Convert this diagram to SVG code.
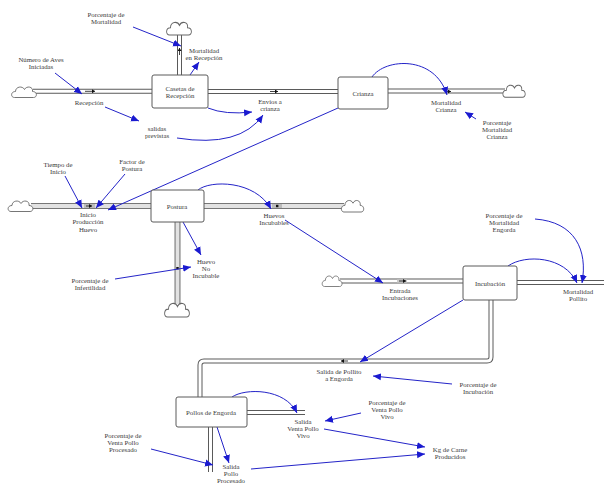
<svg xmlns="http://www.w3.org/2000/svg" width="604" height="490" viewBox="0 0 604 490">
<style>
.t{font-family:"Liberation Serif","Times New Roman",serif;font-size:6.8px;fill:#3a3a3a;text-anchor:middle}
.po{fill:none;stroke:#5a5a5a;stroke-width:5}
.pi{fill:none;stroke:#fff;stroke-width:3}
.pi2{fill:none;stroke:#e2e2e2;stroke-width:3.8}
.po2{fill:none;stroke:#777;stroke-width:6}
.box{fill:#fff;stroke:#5a5a5a;stroke-width:1}
.cl{fill:#fff;stroke:#666;stroke-width:0.9}
.lk{fill:none;stroke:#2424c8;stroke-width:1;marker-end:url(#ah)}
.fl{fill:none;stroke:#111;stroke-width:0.8;marker-end:url(#fh)}
</style>
<defs>
<marker id="ah" markerUnits="userSpaceOnUse" markerWidth="9" markerHeight="8" refX="8" refY="4" orient="auto"><path d="M0,0.5 L8,4 L0,7.5 Z" fill="#1a1ad0"/></marker>
<marker id="fh" markerUnits="userSpaceOnUse" markerWidth="4" markerHeight="4" refX="3" refY="2" orient="auto"><path d="M0,0 L3,2 L0,4 Z" fill="#111"/></marker>
<path id="cloud" d="M-10,5 C-14,5 -14,-1 -9,-1 C-9,-6 -2,-7 0,-3 C2,-7 9,-6 8,-1 C13,-1 13,5 9,5 Z"/>
</defs>

<g id="pipes">
<path class="po" d="M33,91.3 H152 M208,91.5 H338 M388,91 H505 M179.5,75 V33"/>
<path class="pi" d="M33,91.3 H152 M208,91.5 H338 M388,91 H505 M179.5,75 V33"/>
<path class="po2" d="M31,206 H151 M204,206 H344 M177.5,222 V304"/>
<path class="pi2" d="M31,206 H151 M204,206 H344 M177.5,222 V304"/>
<path class="po" d="M340,281 H463 M517,282.5 H604 M491,300 V357 Q491,361 487,361 H204 Q200,361 200,365 V397 M247,412.5 H305 M210.5,427 V472"/>
<path class="pi" d="M340,281 H463 M517,282.5 H604 M491,300 V357 Q491,361 487,361 H204 Q200,361 200,365 V397 M247,412.5 H305 M210.5,427 V472"/>
<rect x="84" y="204" width="11" height="4" fill="#bbb"/>
<rect x="272" y="204" width="10" height="4" fill="#bbb"/>
<rect x="397" y="279.5" width="10" height="3" fill="#ccc"/>
<path class="fl" d="M85,91.3 H95"/>
<path class="fl" d="M179.5,55 V48"/>
<path class="fl" d="M270,91.5 H278"/>
<path class="fl" d="M445,91.5 H451"/>
<path class="fl" d="M86,206 H92"/>
<rect x="276" y="204.8" width="2.4" height="2.4" fill="#111"/>
<rect x="176.3" y="267" width="2.4" height="2.4" fill="#111"/>
<path class="fl" d="M399,281 H406"/>
<path class="fl" d="M348,361 H341"/>
<use href="#cloud" class="cl" transform="translate(24.5,92.5)"/>
<use href="#cloud" class="cl" transform="translate(179.5,29) scale(1,1.2)"/>
<use href="#cloud" class="cl" transform="translate(514.5,91.5) scale(0.9,1.15)"/>
<use href="#cloud" class="cl" transform="translate(21,206.5)"/>
<use href="#cloud" class="cl" transform="translate(353,206.5) scale(0.9,1.1)"/>
<use href="#cloud" class="cl" transform="translate(177.5,310.5) scale(1,1.3)"/>
<use href="#cloud" class="cl" transform="translate(332.5,281.5) scale(0.8,1)"/>
</g>

<g id="connectors">
<path class="lk" d="M133,27 L181,46"/>
<path class="lk" d="M190,75 L199,62"/>
<path class="lk" d="M55,73 L82,94"/>
<path class="lk" d="M105,107 L139,121"/>
<path class="lk" d="M208,108 Q225,115 252,112"/>
<path class="lk" d="M177,138 Q240,148 263,115"/>
<path class="lk" d="M372,77 C385,58 435,55 447,95"/>
<path class="lk" d="M476,119 L465,112"/>
<path class="lk" d="M338,108 L108,210"/>
<path class="lk" d="M65,176 L82,208"/>
<path class="lk" d="M125,174 L96,208"/>
<path class="lk" d="M198,190 C210,180 255,180 271,209"/>
<path class="lk" d="M183,222 L201,255"/>
<path class="lk" d="M115,279 L191,267"/>
<path class="lk" d="M285,220 L383,283"/>
<path class="lk" d="M508,266 C525,254 565,256 577,283"/>
<path class="lk" d="M535,219 C575,222 588,250 582,283"/>
<path class="lk" d="M463,300 L360,362"/>
<path class="lk" d="M452,384 L373,376"/>
<path class="lk" d="M232,397 C245,388 285,388 297,413"/>
<path class="lk" d="M361,413 L325,421"/>
<path class="lk" d="M217,427 L229,463"/>
<path class="lk" d="M151,449 L213,465"/>
<path class="lk" d="M324,429 L425,447"/>
<path class="lk" d="M251,469 L425,454"/>
</g>

<g id="casetas"><rect class="box" x="152" y="75" width="56" height="33" rx="2"/><text class="t" x="180" y="90.5">Casetas de</text><text class="t" x="180" y="98">Recepción</text></g>
<g id="crianza"><rect class="box" x="338" y="77" width="50" height="32" rx="2"/><text class="t" x="363" y="96">Crianza</text></g>
<g id="postura"><rect class="box" x="151" y="190" width="53" height="32" rx="2"/><text class="t" x="177" y="209">Postura</text></g>
<g id="incubacion"><rect class="box" x="463" y="266" width="54" height="34" rx="2"/><text class="t" x="490" y="286">Incubación</text></g>
<g id="pollos"><rect class="box" x="176" y="397" width="71" height="30" rx="2"/><text class="t" x="211" y="415">Pollos de Engorda</text></g>

<g id="pct-mortalidad"><text class="t" x="106" y="17">Porcentaje de</text><text class="t" x="106" y="24">Mortalidad</text></g>
<g id="mort-recepcion"><text class="t" x="204" y="53">Mortalidad</text><text class="t" x="204" y="60">en Recepción</text></g>
<g id="num-aves"><text class="t" x="41" y="62">Número de Aves</text><text class="t" x="41" y="69">Iniciadas</text></g>
<g id="recepcion"><text class="t" x="89" y="104.5">Recepción</text></g>
<g id="salidas"><text class="t" x="157" y="130.5">salidas</text><text class="t" x="157" y="137.5">previstas</text></g>
<g id="envios"><text class="t" x="270" y="103.5">Envíos a</text><text class="t" x="270" y="110.5">crianza</text></g>
<g id="mort-crianza"><text class="t" x="446" y="104.5">Mortalidad</text><text class="t" x="446" y="111.5">Crianza</text></g>
<g id="pct-mort-crianza"><text class="t" x="497" y="124.5">Porcentaje</text><text class="t" x="497" y="131.5">Mortalidad</text><text class="t" x="497" y="138.5">Crianza</text></g>
<g id="tiempo"><text class="t" x="58" y="166.5">Tiempo de</text><text class="t" x="58" y="173.5">Inicio</text></g>
<g id="factor"><text class="t" x="132" y="164">Factor de</text><text class="t" x="132" y="171">Postura</text></g>
<g id="inicio-prod"><text class="t" x="88" y="216.5">Inicio</text><text class="t" x="88" y="224">Producción</text><text class="t" x="88" y="231.5">Huevo</text></g>
<g id="huevos-inc"><text class="t" x="274" y="217.5">Huevos</text><text class="t" x="274" y="224.5">Incubables</text></g>
<g id="huevo-no"><text class="t" x="206" y="263.5">Huevo</text><text class="t" x="206" y="270.5">No</text><text class="t" x="206" y="277.5">Incubable</text></g>
<g id="pct-infert"><text class="t" x="90" y="282.5">Porcentaje de</text><text class="t" x="90" y="289.5">Infertilidad</text></g>
<g id="pct-mort-engorda"><text class="t" x="504" y="217.5">Porcentaje de</text><text class="t" x="504" y="224.5">Mortalidad</text><text class="t" x="504" y="231.5">Engorda</text></g>
<g id="entrada"><text class="t" x="400" y="292.5">Entrada</text><text class="t" x="400" y="300">Incubaciones</text></g>
<g id="mort-pollito"><text class="t" x="578" y="293.5">Mortalidad</text><text class="t" x="578" y="300.5">Pollito</text></g>
<g id="salida-pollito"><text class="t" x="339" y="373.5">Salida de Pollito</text><text class="t" x="339" y="380.5">a Engorda</text></g>
<g id="pct-incub"><text class="t" x="478" y="386.5">Porcentaje de</text><text class="t" x="478" y="393.5">Incubación</text></g>
<g id="salida-vivo"><text class="t" x="303" y="423.5">Salida</text><text class="t" x="303" y="430.5">Venta Pollo</text><text class="t" x="303" y="437.5">Vivo</text></g>
<g id="pct-vivo"><text class="t" x="387" y="404.5">Porcentaje de</text><text class="t" x="387" y="411.5">Venta Pollo</text><text class="t" x="387" y="418.5">Vivo</text></g>
<g id="pct-procesado"><text class="t" x="123" y="437.5">Porcentaje de</text><text class="t" x="123" y="444.5">Venta Pollo</text><text class="t" x="123" y="451.5">Procesado</text></g>
<g id="salida-procesado"><text class="t" x="231" y="469">Salida</text><text class="t" x="231" y="476">Pollo</text><text class="t" x="231" y="483">Procesado</text></g>
<g id="kg"><text class="t" x="450" y="451.5">Kg de Carne</text><text class="t" x="450" y="458.5">Producidos</text></g>
</svg>
